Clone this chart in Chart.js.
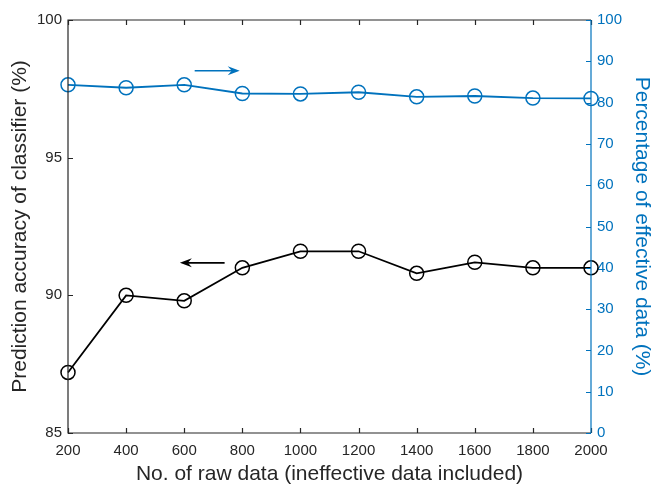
<!DOCTYPE html>
<html>
<head>
<meta charset="utf-8">
<script src="https://cdn.jsdelivr.net/npm/chart.js@4.4.0/dist/chart.umd.min.js"></script>
<style>
  html, body { margin: 0; padding: 0; background: #fff; }
  #wrap { width: 654px; height: 487px; }
</style>
</head>
<body>
<div id="wrap"><canvas id="myChart" width="654" height="487"></canvas></div>
<script>
// data
var rawData = [200, 400, 600, 800, 1000, 1200, 1400, 1600, 1800, 2000];
var accuracy = [87.2, 90.0, 89.8, 91.0, 91.6, 91.6, 90.8, 91.2, 91.0, 91.0];
var effective = [84.3, 83.6, 84.3, 82.2, 82.1, 82.5, 81.4, 81.6, 81.1, 81.0];

var BLUE = '#0072BD';
var DARK = '#262626';
var FONT = '"Liberation Sans", Arial, Helvetica, sans-serif';

// arrows showing which axis each line belongs to (data coordinates)
var arrows = [
    { x1: 636, x2: 791, y: 87.7, axis: 'y1', color: BLUE },
    { x1: 739, x2: 585, y: 91.18, axis: 'y', color: '#000' }
];

function toPoints(xs, ys) {
    var pts = [];
    for (var i = 0; i < xs.length; i++) {
        pts.push({ x: xs[i], y: ys[i] });
    }
    return pts;
}

// draws the box, inward ticks and arrows like matlab
var boxPlugin = {
    id: 'box',
    afterDatasetsDraw: function(chart) {
        var ctx = chart.ctx;
        var a = chart.chartArea;
        var sx = chart.scales.x, sy = chart.scales.y, sy1 = chart.scales.y1;
        var tl = 5;
        ctx.save();
        ctx.lineWidth = 1.2;
        // black spines and x ticks
        ctx.strokeStyle = DARK;
        ctx.beginPath();
        ctx.moveTo(a.right, a.top); ctx.lineTo(a.left, a.top);
        ctx.lineTo(a.left, a.bottom); ctx.lineTo(a.right, a.bottom);
        sx.ticks.forEach(function(t) {
            var px = Math.round(sx.getPixelForValue(t.value)) + 0.5;
            ctx.moveTo(px, a.bottom); ctx.lineTo(px, a.bottom - tl);
            ctx.moveTo(px, a.top); ctx.lineTo(px, a.top + tl);
        });
        sy.ticks.forEach(function(t) {
            var py = Math.round(sy.getPixelForValue(t.value)) + 0.5;
            ctx.moveTo(a.left, py); ctx.lineTo(a.left + tl, py);
        });
        ctx.stroke();
        // blue right spine
        ctx.strokeStyle = BLUE;
        ctx.beginPath();
        ctx.moveTo(a.right, a.top); ctx.lineTo(a.right, a.bottom);
        sy1.ticks.forEach(function(t) {
            var py = Math.round(sy1.getPixelForValue(t.value)) + 0.5;
            ctx.moveTo(a.right, py); ctx.lineTo(a.right - tl, py);
        });
        ctx.stroke();
        // arrows
        arrows.forEach(function(ar) {
            var sc = chart.scales[ar.axis];
            var x1 = sx.getPixelForValue(ar.x1), x2 = sx.getPixelForValue(ar.x2);
            var y = sc.getPixelForValue(ar.y);
            var dir = x2 > x1 ? 1 : -1;
            ctx.strokeStyle = ar.color;
            ctx.fillStyle = ar.color;
            ctx.lineWidth = 1.6;
            ctx.beginPath();
            ctx.moveTo(x1, y); ctx.lineTo(x2 - dir * 6, y);
            ctx.stroke();
            ctx.beginPath();
            ctx.moveTo(x2, y);
            ctx.lineTo(x2 - dir * 12, y - 4.5);
            ctx.lineTo(x2 - dir * 8, y);
            ctx.lineTo(x2 - dir * 12, y + 4.5);
            ctx.closePath();
            ctx.fill();
        });
        ctx.restore();
    }
};

const ctx = document.getElementById('myChart');
new Chart(ctx, {
    type: 'line',
    data: {
        datasets: [{
            label: 'Prediction accuracy',
            data: toPoints(rawData, accuracy),
            yAxisID: 'y',
            borderColor: '#000',
            borderWidth: 1.8,
            pointStyle: 'circle',
            pointRadius: 7,
            pointBorderWidth: 1.5,
            pointBorderColor: '#000',
            pointBackgroundColor: 'rgba(0,0,0,0)',
            tension: 0,
            clip: false
        }, {
            label: 'Effective data',
            data: toPoints(rawData, effective),
            yAxisID: 'y1',
            borderColor: BLUE,
            borderWidth: 1.8,
            pointStyle: 'circle',
            pointRadius: 7,
            pointBorderWidth: 1.5,
            pointBorderColor: BLUE,
            pointBackgroundColor: 'rgba(0,0,0,0)',
            tension: 0,
            clip: false
        }]
    },
    options: {
        responsive: false,
        animation: false,
        events: [],
        layout: { padding: { top: 20, left: 0, right: 0, bottom: 0 } },
        plugins: {
            legend: { display: false },
            tooltip: { enabled: false }
        },
        scales: {
            x: {
                type: 'linear',
                min: 200,
                max: 2000,
                grid: { display: false, drawTicks: false },
                border: { display: false },
                ticks: { stepSize: 200, color: DARK, padding: 9, maxRotation: 0,
                    font: { family: FONT, size: 15 },
                    callback: function(v) { return String(v); } },
                title: { display: true, text: 'No. of raw data (ineffective data included)',
                    color: DARK, font: { family: FONT, size: 21 }, padding: { top: 0, bottom: 0 } },
                afterFit: function(s) { s.height = 54; }
            },
            y: {
                position: 'left',
                min: 85,
                max: 100,
                grid: { display: false, drawTicks: false },
                border: { display: false },
                ticks: { stepSize: 5, color: DARK, padding: 6,
                    font: { family: FONT, size: 15 } },
                title: { display: true, text: 'Prediction accuracy of classifier (%)',
                    color: DARK, font: { family: FONT, size: 21 }, padding: { top: 8, bottom: 0 } },
                afterFit: function(s) { s.width = 68; }
            },
            y1: {
                position: 'right',
                min: 0,
                max: 100,
                grid: { display: false, drawTicks: false },
                border: { display: false },
                ticks: { stepSize: 10, color: BLUE, padding: 6,
                    font: { family: FONT, size: 15 } },
                title: { display: true, text: 'Percentage of effective data (%)',
                    color: BLUE, font: { family: FONT, size: 21 }, padding: { top: 0, bottom: 0 } },
                afterFit: function(s) { s.width = 63; }
            }
        }
    },
    plugins: [boxPlugin]
});
</script>
</body>
</html>
